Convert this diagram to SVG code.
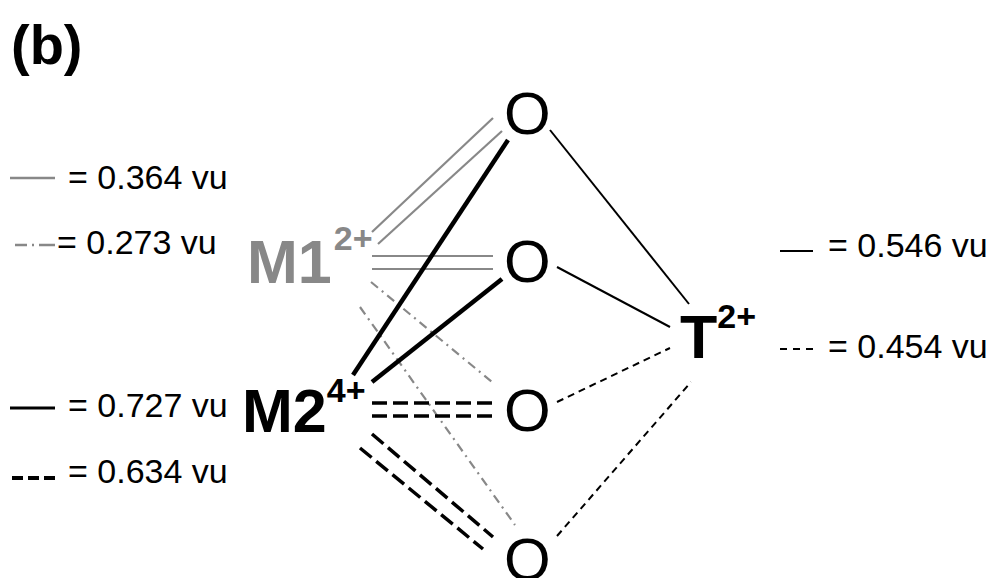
<svg xmlns="http://www.w3.org/2000/svg" width="997" height="578" viewBox="0 0 997 578">
  <style>
    .lbl { font-family: "Liberation Sans", Arial, sans-serif; fill: #000; }
    .bold { font-weight: bold; }
    .ion { font-family: "Liberation Sans", Arial, sans-serif; font-weight: bold; font-size: 61px; }
    .sup { font-size: 34px; }
    .oxy { font-family: "Liberation Sans", Arial, sans-serif; font-size: 60px; fill: #000; }
    .leg { font-family: "Liberation Sans", Arial, sans-serif; font-size: 34px; fill: #000; }
    .m1 { stroke: #888; stroke-width: 2.2; fill: none; }
    .m1dd { stroke: #888; stroke-width: 2.2; fill: none; stroke-dasharray: 9 5 2 5; }
    .m2 { stroke: #000; stroke-width: 4.5; fill: none; }
    .m2d { stroke: #000; stroke-width: 3.5; fill: none; stroke-dasharray: 15 6; }
    .t { stroke: #000; stroke-width: 2; fill: none; }
    .td { stroke: #000; stroke-width: 2; fill: none; stroke-dasharray: 7 5; }
  </style>

  <!-- panel label -->
  <text x="11" y="64" class="lbl bold" font-size="56">(b)</text>

  <!-- bond lines -->
  <g id="connectors">
    <!-- M1 to oxygens -->
    <line class="m1" x1="372" y1="232" x2="493" y2="118"/>
    <line class="m1" x1="378" y1="244" x2="502" y2="131"/>
    <line class="m1" x1="372" y1="256" x2="493" y2="256"/>
    <line class="m1" x1="372" y1="269" x2="493" y2="269"/>
    <line class="m1dd" x1="371" y1="282" x2="492" y2="382"/>
    <line class="m1dd" x1="360" y1="307" x2="515" y2="525"/>
    <!-- M2 to oxygens -->
    <line class="m2" x1="353" y1="375" x2="508" y2="140"/>
    <line class="m2" x1="372" y1="382" x2="502" y2="279"/>
    <line class="m2d" x1="372" y1="403" x2="493" y2="403"/>
    <line class="m2d" x1="372" y1="416" x2="493" y2="416"/>
    <line class="m2d" x1="372" y1="434" x2="493" y2="537"/>
    <line class="m2d" x1="360" y1="448" x2="483" y2="549"/>
    <!-- T to oxygens -->
    <line class="t" x1="550" y1="130" x2="689" y2="304"/>
    <line class="t" x1="557" y1="267" x2="670" y2="327"/>
    <line class="td" x1="557" y1="402" x2="670" y2="348"/>
    <line class="td" x1="557" y1="536" x2="691" y2="382"/>
  </g>

  <!-- cations -->
  <g id="M1">
    <text x="247" y="283" class="ion" fill="#888">M1<tspan class="sup" dx="2" dy="-33">2+</tspan></text>
  </g>
  <g id="M2">
    <text x="242" y="432" class="ion" fill="#000">M2<tspan class="sup" dy="-30">4+</tspan></text>
  </g>
  <g id="T">
    <text x="680" y="358" class="ion" fill="#000">T<tspan class="sup" dy="-30">2+</tspan></text>
  </g>

  <!-- oxygens -->
  <g id="O1"><text x="504" y="134" class="oxy">O</text></g>
  <g id="O2"><text x="504" y="282" class="oxy">O</text></g>
  <g id="O3"><text x="504" y="431" class="oxy">O</text></g>
  <g id="O4"><text x="504" y="580" class="oxy">O</text></g>

  <!-- legend, left -->
  <g id="legend-left">
    <line x1="10" y1="178" x2="55" y2="178" stroke="#888" stroke-width="2.5"/>
    <text x="68" y="189" class="leg">= 0.364 vu</text>
    <line x1="15" y1="245" x2="55" y2="245" stroke="#888" stroke-width="2.5" stroke-dasharray="12 5 2 5 16"/>
    <text x="57" y="254" class="leg">= 0.273 vu</text>
    <line x1="10" y1="408" x2="55" y2="408" stroke="#000" stroke-width="3"/>
    <text x="68" y="417" class="leg">= 0.727 vu</text>
    <line x1="12" y1="478" x2="55" y2="478" stroke="#000" stroke-width="4" stroke-dasharray="11 5"/>
    <text x="68" y="483" class="leg">= 0.634 vu</text>
  </g>

  <!-- legend, right -->
  <g id="legend-right">
    <line x1="780" y1="251" x2="813" y2="251" stroke="#000" stroke-width="2"/>
    <text x="828" y="257" class="leg">= 0.546 vu</text>
    <line x1="780" y1="349" x2="813" y2="349" stroke="#000" stroke-width="2" stroke-dasharray="7 6"/>
    <text x="828" y="358" class="leg">= 0.454 vu</text>
  </g>
</svg>
